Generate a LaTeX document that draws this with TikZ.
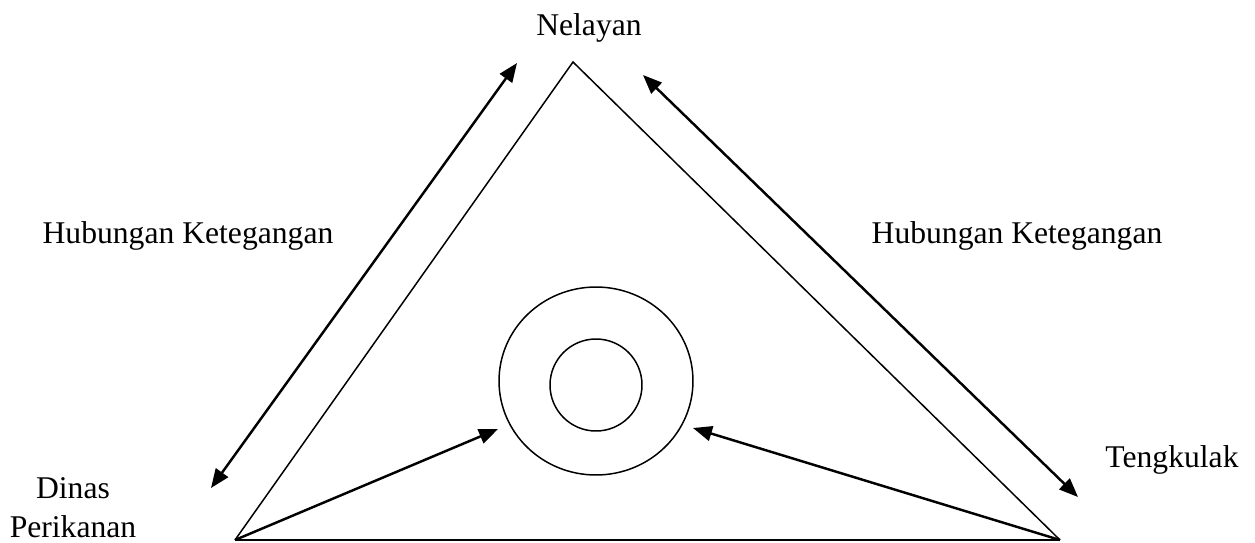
\documentclass[tikz,border=0pt]{standalone}
\usepackage{fontspec}
\setmainfont{Liberation Serif}
\usetikzlibrary{arrows.meta,positioning,shapes.geometric}

\begin{document}
\begin{tikzpicture}[x=0.02cm, y=-0.02cm,
    every node/.style={font=\fontsize{18}{22}\selectfont},
    lbl/.style={anchor=base, inner sep=0pt, align=center},
    thinline/.style={line width=0.85pt},
    dblarrow/.style={{Triangle[length=0.38cm,width=0.3cm]}-{Triangle[length=0.38cm,width=0.3cm]}, line width=1.4pt},
    onearrow/.style={-{Triangle[length=0.38cm,width=0.3cm]}, line width=1.4pt}]
  \useasboundingbox (0,0) rectangle (1255,542);
  % triangle corners
  \coordinate (top) at (573,62);
  \coordinate (bl) at (235,540);
  \coordinate (br) at (1060,540);
  \draw[thinline] (bl) -- (top) -- (br);
  \draw[line width=1.4pt] (bl) -- (br);
  % circles in the middle
  \node[draw, ellipse, thinline, minimum width=3.88cm, minimum height=3.76cm] (ring) at (596,381) {};
  \node[draw, circle, thinline, minimum size=1.84cm] (core) at (596,385) {};
  % labels
  \node[lbl] (nelayan) at (589,35) {Nelayan};
  \node[lbl] (hkleft) at (188,243) {Hubungan Ketegangan};
  \node[lbl] (hkright) at (1017,243) {Hubungan Ketegangan};
  \node[lbl] (tengkulak) at (1172,467) {Tengkulak};
  \node[lbl] (dinas) at (73,537) {Dinas\\Perikanan};
  % arrow ends
  \coordinate (la) at (517,63);
  \coordinate (lb) at (211,488);
  \coordinate (ra) at (643,75);
  \coordinate (rb) at (1078,497);
  \coordinate (ltip) at (498,429);
  \coordinate (rtip) at (693,428);
  \draw[dblarrow] (lb) -- (la);
  \draw[dblarrow] (ra) -- (rb);
  \draw[onearrow] (bl) -- (ltip);
  \draw[onearrow] (br) -- (rtip);
\end{tikzpicture}
\end{document}
